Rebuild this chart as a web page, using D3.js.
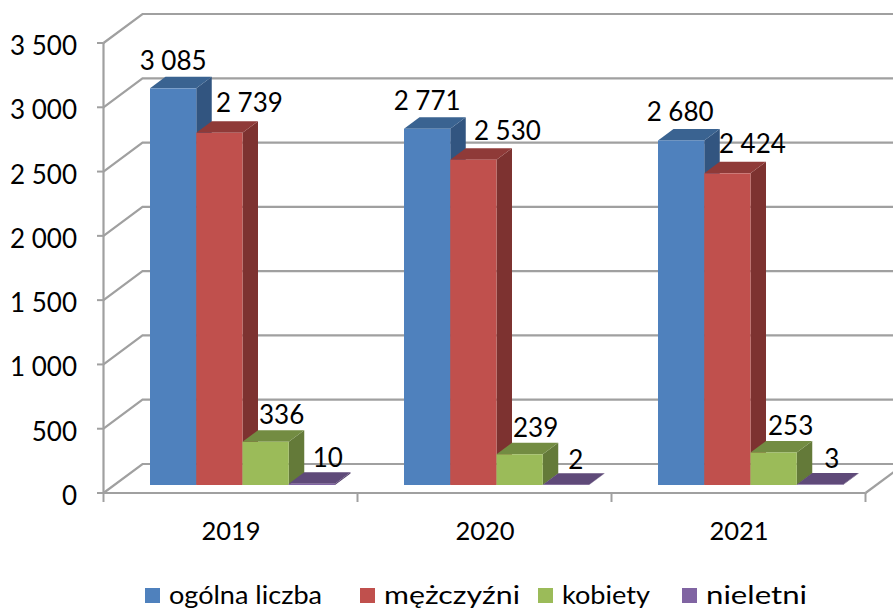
<!DOCTYPE html>
<html><head><meta charset="utf-8">
<script src="https://cdnjs.cloudflare.com/ajax/libs/d3/7.8.5/d3.min.js"></script>
<style>html,body{margin:0;padding:0;background:#fff}svg{display:block}text{font-family:Lato,sans-serif;fill:#000}</style>
</head><body><svg id="c" width="893" height="610"></svg>
<script>
const years = ["2019","2020","2021"];
const seriesNames = ["ogólna liczba","mężczyźni","kobiety","nieletni"];
const ogolna = [3085,2771,2680];
const mezczyzni = [2739,2530,2424];
const kobiety = [336,239,253];
const nieletni = [10,2,3];
const yTicks = [0,500,1000,1500,2000,2500,3000,3500];
const seriesValues = [ogolna,mezczyzni,kobiety,nieletni];
const frontCol = ["#4F81BD","#C0504D","#9BBB59","#8064A2"];
const topCol = ["#3A6391","#8F3A38","#738C42","#5F4A79"];
const sideCol = ["#325580","#7D3230","#647A39","#533F6B"];
// label nudges (layout only), per series then category
const nudgeX = [[0,0,-1],[30,34,25],[16,16,17],[16,10,12]];
const nudgeY = [[-18,-19,-19],[-21,-20,-20],[-18,-17,-17],[-17,-16,-17]];

const svg = d3.select("#c");
const fmt = v => d3.format(",")(v).replace(/,/g," ");
const y = d3.scaleLinear().domain([0,3500]).range([493,43]);
const x = d3.scaleBand().domain(years).range([103.5,865.5]);
const inner = d3.scaleBand().domain(d3.range(4)).range([0,185]);
const groupOffset = 46.5;
const wall = {dx:39,dy:-29}, bar = {dx:15.5,dy:-11.5}, baseLift = 8;
const grey = "#a0a0a0";
const g = svg.append("g");

yTicks.forEach(t=>{
  const p = d3.path();
  p.moveTo(103.5,y(t)); p.lineTo(103.5+wall.dx,y(t)+wall.dy); p.lineTo(893,y(t)+wall.dy);
  g.append("path").attr("d",p).attr("fill","none").attr("stroke",grey).attr("stroke-width",2.2);
  g.append("line").attr("x1",97).attr("x2",103.5).attr("y1",y(t)).attr("y2",y(t)).attr("stroke",grey).attr("stroke-width",2);
  g.append("text").attr("x",77).attr("y",y(t)+12).attr("text-anchor","end").attr("font-size",26).text(fmt(t));
});
g.append("line").attr("x1",865.5).attr("y1",y(0)).attr("x2",865.5+wall.dx).attr("y2",y(0)+wall.dy).attr("stroke",grey).attr("stroke-width",2.2);
g.append("line").attr("x1",103.5).attr("x2",103.5).attr("y1",y(3500)).attr("y2",y(0)).attr("stroke",grey).attr("stroke-width",2.2);
g.append("line").attr("x1",103.5).attr("x2",865.5).attr("y1",y(0)).attr("y2",y(0)).attr("stroke",grey).attr("stroke-width",2.2);
[...years.map(d=>x(d)),865.5].forEach(px=>{
  g.append("line").attr("x1",px).attr("x2",px).attr("y1",y(0)).attr("y2",y(0)+9).attr("stroke",grey).attr("stroke-width",2);
});
years.forEach(d=>{
  g.append("text").attr("x",x(d)+x.bandwidth()/2+0.5).attr("y",540).attr("text-anchor","middle").attr("font-size",25.5).text(d);
});

const base = y(0)-baseLift, zero = y(0);
const poly = pts => pts.map(p=>p.join(",")).join(" ");
seriesValues.forEach((vals,s)=>{
  vals.forEach((v,c)=>{
    const x0 = x(years[c])+groupOffset+inner(s), w = inner.bandwidth(), x1 = x0+w;
    const top = base-(zero-y(v));
    const b = g.append("g");
    b.append("polygon").attr("fill",sideCol[s]).attr("points",poly([[x1,top],[x1+bar.dx,top+bar.dy],[x1+bar.dx,base+bar.dy],[x1,base]]));
    b.append("polygon").attr("fill",topCol[s]).attr("points",poly([[x0,top],[x1,top],[x1+bar.dx,top+bar.dy],[x0+bar.dx,top+bar.dy]]));
    b.append("rect").attr("x",x0).attr("y",top).attr("width",w).attr("height",base-top).attr("fill",frontCol[s]);
  });
});
seriesValues.forEach((vals,s)=>{
  vals.forEach((v,c)=>{
    const x0 = x(years[c])+groupOffset+inner(s), w = inner.bandwidth();
    const top = base-(zero-y(v));
    g.append("text").attr("x",x0+w/2+nudgeX[s][c]).attr("y",top+nudgeY[s][c]).attr("text-anchor","middle").attr("font-size",26).text(fmt(v));
  });
});
const legendX = [145,360,538,682];
const legendW = [153,136,88,101];
seriesNames.forEach((n,i)=>{
  g.append("rect").attr("x",legendX[i]).attr("y",588).attr("width",15).attr("height",15).attr("fill",frontCol[i]);
  g.append("text").attr("x",legendX[i]+24).attr("y",604).attr("font-size",25)
    .attr("textLength",legendW[i]).attr("lengthAdjust","spacingAndGlyphs").text(n);
});
</script></body></html>
